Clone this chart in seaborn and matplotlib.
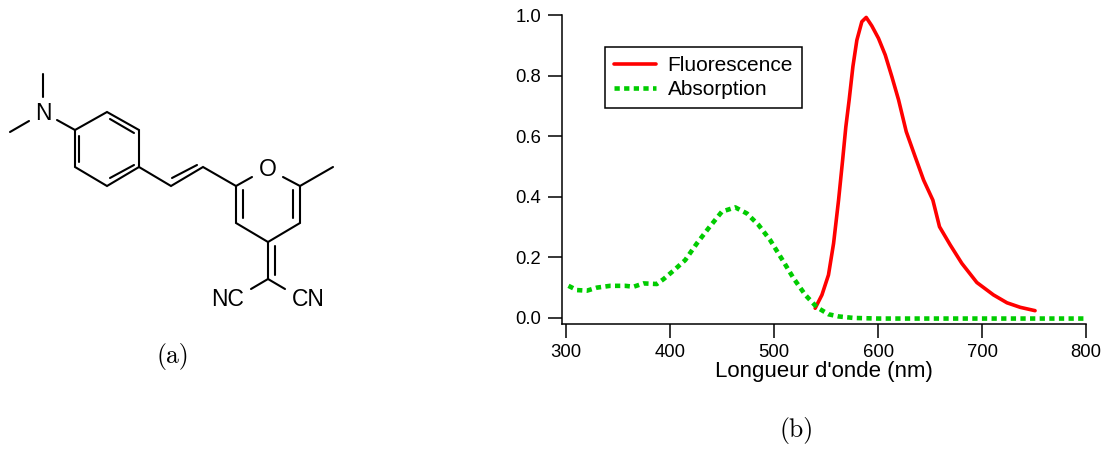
import matplotlib
matplotlib.use('Agg')
import matplotlib.pyplot as plt
import pandas as pd
import seaborn as sns

# Spectra
fluo_nm = [539.5, 546, 552.3, 557.2, 562, 565.9, 569, 572.2, 575.8, 579.6, 584.4, 588.6, 594, 600.4, 606.9,
           613.3, 619.7, 627.1, 635.7, 643.8, 652.7, 659.1, 669.4, 680.6, 695, 711, 724, 736.8, 751]
fluo_val = [0.032, 0.076, 0.142, 0.246, 0.389, 0.521, 0.631, 0.72, 0.83, 0.917, 0.978, 0.992, 0.964, 0.923, 0.868,
            0.796, 0.72, 0.615, 0.532, 0.455, 0.389, 0.301, 0.241, 0.18, 0.117, 0.076, 0.05, 0.035, 0.024]
abs_nm = [302.2, 310.3, 319.9, 329.5, 342.3, 356.8, 364.8, 374.4, 387.2, 393.6, 403.2, 414.5, 425.7, 436.9, 449.8,
          462.6, 473.8, 485, 496.2, 509, 518.7, 530, 541.2, 552.4, 562, 576.4, 600, 650, 700, 750, 800]
abs_val = [0.106, 0.092, 0.09, 0.1, 0.106, 0.106, 0.103, 0.114, 0.112, 0.128, 0.156, 0.191, 0.246, 0.296, 0.351,
           0.365, 0.345, 0.307, 0.257, 0.186, 0.131, 0.076, 0.035, 0.012, 0.005, 0.0, -0.002, -0.002, -0.002, -0.002, -0.002]
x_ticks = [300, 400, 500, 600, 700, 800]
y_ticks = [0.0, 0.2, 0.4, 0.6, 0.8, 1.0]

# Molecule drawing, in pixels of the figure
bonds = [
    [(43, 74), (43, 97)],
    [(10, 132), (29, 121)],
    [(57, 120), (75, 130)],
    [(75, 130), (107, 112), (139, 130), (139, 167), (107, 186), (75, 167), (75, 130)],
    [(79, 136), (79, 162)],
    [(110, 119), (134, 133)],
    [(110, 178), (134, 165)],
    [(139, 167), (171, 186), (203, 167), (236, 186), (252, 177)],
    [(172, 178), (197, 165)],
    [(283, 177), (300, 186), (333, 167)],
    [(236, 186), (236, 223), (268, 242), (300, 223), (300, 186)],
    [(243, 190), (243, 218)],
    [(293, 190), (293, 218)],
    [(268, 242), (268, 279)],
    [(275, 246), (275, 275)],
    [(251, 289), (268, 279), (285, 289)],
]
atoms = ['N', 'O', 'NC', 'CN']
atom_x = [43, 268, 228, 308]
atom_y = [113, 169, 299, 299]

sns.set_theme(style='ticks')
plt.rcParams['font.family'] = ['Liberation Sans', 'DejaVu Sans']
plt.rcParams['text.color'] = 'black'

fig = plt.figure(figsize=(11.04, 4.5), dpi=100)
W, H = 1104, 450

# left part: molecule
bg = fig.add_axes([0, 0, 1, 1])
bg.set_xlim(0, W)
bg.set_ylim(H, 0)
bg.axis('off')
for bond in bonds:
    bg.plot([p[0] for p in bond], [p[1] for p in bond], color='black', lw=1.5, solid_joinstyle='miter')
for name, ax_, ay_ in zip(atoms, atom_x, atom_y):
    bg.text(ax_, ay_, name, fontsize=16.5, ha='center', va='center')
bg.text(173, 356, '(a)', family='cmr10', fontsize=18.5, ha='center', va='center')
bg.text(797, 431, '(b)', family='cmr10', fontsize=18.5, ha='center', va='center')

# right part: spectra
left, right, top, bottom = 561.5, 1086, 15, 324
ax = fig.add_axes([left / W, 1 - bottom / H, (right - left) / W, (bottom - top) / H])
ax.patch.set_alpha(0)

fluo = pd.DataFrame({'nm': fluo_nm, 'val': fluo_val})
absorb = pd.DataFrame({'nm': abs_nm, 'val': abs_val})
sns.lineplot(data=fluo, x='nm', y='val', ax=ax, color='#ff0000', lw=2.6, label='Fluorescence', errorbar=None)
sns.lineplot(data=absorb, x='nm', y='val', ax=ax, color='#00cc00', lw=3.3, label='Absorption', errorbar=None,
             linestyle=(0, (1.15, 0.95)), dash_capstyle='butt')

ax.set_xlim(295.5, 800)
ax.set_ylim(-0.02, 1.0)
ax.set_xticks(x_ticks)
ax.set_yticks(y_ticks)
ax.set_yticklabels([f'{v:.1f}' for v in y_ticks])
ax.tick_params(axis='both', length=10, width=1.1, color='black', labelsize=13.3, pad=4.5, labelcolor='black')
ax.set_xlabel("Longueur d'onde (nm)", fontsize=16, color='black', labelpad=0)
ax.set_ylabel('')
sns.despine(ax=ax)
ax.spines['left'].set_linewidth(1.1)
ax.spines['bottom'].set_linewidth(1.1)
ax.spines['left'].set_color('black')
ax.spines['bottom'].set_color('black')

leg = ax.legend(loc='upper left', bbox_to_anchor=((605 - left) / (right - left), 1 - (46.5 - top) / (bottom - top)),
                fontsize=15, frameon=True, fancybox=False, framealpha=1, edgecolor='black', borderaxespad=0,
                handlelength=2, handletextpad=0.55, labelspacing=0.25, borderpad=0.45)
leg.get_frame().set_linewidth(1.1)

fig.savefig('out.png', dpi=100)
